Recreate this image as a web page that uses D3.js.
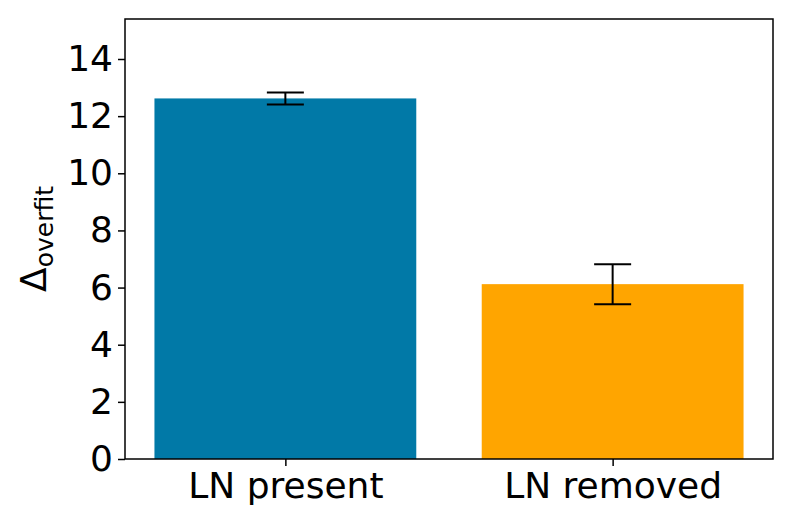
<!DOCTYPE html>
<html><head><meta charset="utf-8">
<script src="https://cdn.jsdelivr.net/npm/d3@7"></script>
<style>body{margin:0;background:#fff}svg{display:block}text{font-family:"DejaVu Sans",sans-serif;fill:#000}</style>
</head><body>
<svg id="c" width="793" height="529"></svg>
<script>
const categories = ["LN present", "LN removed"];
const values = [12.62, 6.12];
const errors = [0.21, 0.70];
const colors = ["#0179a7", "#ffa500"];
const yTicks = [0, 2, 4, 6, 8, 10, 12, 14];

const W = 793, H = 529;
const m = {left: 125, right: 20, top: 19, bottom: 70};
const svg = d3.select("#c");
const x = d3.scaleLinear().domain([-0.49, 1.49]).range([m.left, W - m.right]);
const y = d3.scaleLinear().domain([0, 15.4]).range([H - m.bottom, m.top]);
const bw = x(0.4) - x(0);

const g = svg.append("g");
g.selectAll("rect.bar").data(values).join("rect")
  .attr("x", (d,i) => x(i - 0.4)).attr("width", (d,i)=> x(i+0.4)-x(i-0.4))
  .attr("y", d => y(d)).attr("height", d => y(0) - y(d))
  .attr("fill", (d,i) => colors[i]);

const cap = 18.5;
const eb = g.selectAll("g.err").data(values).join("g").attr("stroke", "#000").attr("stroke-width", 2);
eb.append("line").attr("x1", (d,i)=>x(i)).attr("x2", (d,i)=>x(i))
  .attr("y1", (d,i)=>y(d+errors[i])).attr("y2", (d,i)=>y(d-errors[i]));
eb.append("line").attr("x1", (d,i)=>x(i)-cap).attr("x2", (d,i)=>x(i)+cap)
  .attr("y1", (d,i)=>y(d+errors[i])).attr("y2", (d,i)=>y(d+errors[i]));
eb.append("line").attr("x1", (d,i)=>x(i)-cap).attr("x2", (d,i)=>x(i)+cap)
  .attr("y1", (d,i)=>y(d-errors[i])).attr("y2", (d,i)=>y(d-errors[i]));

// frame
svg.append("rect").attr("x", m.left).attr("y", m.top)
  .attr("width", W - m.right - m.left).attr("height", H - m.bottom - m.top)
  .attr("fill", "none").attr("stroke", "#000").attr("stroke-width", 1.5);

const yAxis = svg.append("g").attr("transform", `translate(${m.left},0)`)
  .call(d3.axisLeft(y).tickValues(yTicks).tickSize(7).tickPadding(5).tickFormat(d3.format("d")));
yAxis.select(".domain").remove();
yAxis.selectAll("line").attr("stroke", "#000").attr("stroke-width", 1.5);
yAxis.selectAll("text").style("font-size", "36px").style("font-family", "DejaVu Sans").attr("fill", "#000");

const xAxis = svg.append("g").attr("transform", `translate(0,${H - m.bottom})`)
  .call(d3.axisBottom(x).tickValues([0, 1]).tickSize(7).tickPadding(6).tickFormat(i => categories[i]));
xAxis.select(".domain").remove();
xAxis.selectAll("line").attr("stroke", "#000").attr("stroke-width", 1.5);
xAxis.selectAll("text").style("font-size", "36px").style("font-family", "DejaVu Sans").attr("fill", "#000");

const yl = svg.append("text").attr("transform", `translate(46,${(m.top + H - m.bottom)/2}) rotate(-90)`)
  .attr("text-anchor", "middle").style("font-size", "36px");
yl.append("tspan").text("Δ");
yl.append("tspan").attr("dy", 7).style("font-size", "25px").text("overfit");
</script>
</body></html>
